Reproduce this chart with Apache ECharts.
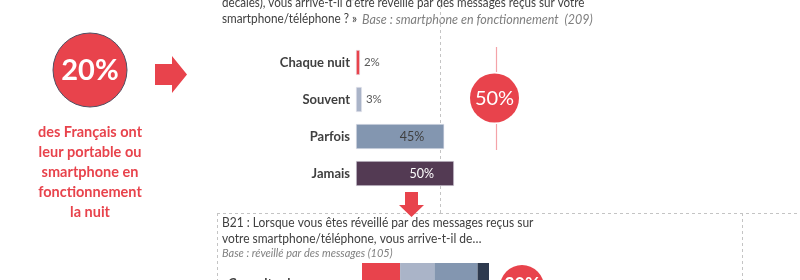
<!DOCTYPE html>
<html>
<head>
<meta charset="utf-8">
<script src="https://cdn.jsdelivr.net/npm/echarts@6/dist/echarts.min.js"></script>
<style>
  html, body { margin: 0; padding: 0; background: #fff; }
  #chart { width: 800px; height: 280px; }
</style>
</head>
<body>
<div id="chart"></div>
<script>
// réveil par des messages
const categories = ['Chaque nuit', 'Souvent', 'Parfois', 'Jamais'];
const values = [2, 3, 45, 50];
const barColors = ['#e8434c', '#aab4c8', '#8396b0', '#533a53'];
const headline = ['20%', '50%'];

// B21 (barre empilée, en partie coupée)
const b21Category = ['Consulter les messages'];
const b21Values = [30, 27, 34, 9];
const b21Colors = ['#e8434c', '#aab4c8', '#8396b0', '#2e3a4e'];
const b21Headline = '30%';

const RED = '#e8434c';
const TXT = '#404040';
const FONT = 'Lato';
const DASH = { stroke: '#c4c4c4', lineWidth: 1, lineDash: [3, 3] };

const chart = echarts.init(document.getElementById('chart'));

function label(i) {
  if (values[i] < 10) {
    return { show: true, position: 'right', distance: 4, color: '#595959', fontSize: 11.5, fontFamily: FONT };
  }
  return {
    show: true, position: 'insideRight', distance: 20, fontSize: 12.5, fontFamily: FONT,
    color: i === values.length - 1 ? '#ffffff' : '#3f3f3f'
  };
}

// texte de la question, un peu resserré comme du Calibri
function line(x, y, text, font, fill, sx) {
  return {
    type: 'text', x: x, y: y, scaleX: sx || 1,
    style: { text: text, fill: fill || TXT, font: font, textVerticalAlign: 'middle' }
  };
}

const option = {
  animation: false,
  textStyle: { fontFamily: FONT },
  grid: [
    { left: 356, top: 44, height: 148, width: 196, outerBoundsMode: 'none' },
    { left: 362, top: 263, height: 42, width: 127, outerBoundsMode: 'none' }
  ],
  xAxis: [
    { gridIndex: 0, type: 'value', min: 0, max: 100, show: false },
    { gridIndex: 1, type: 'value', min: 0, max: 100, show: false }
  ],
  yAxis: [
    {
      gridIndex: 0, type: 'category', data: categories, inverse: true,
      axisLine: { show: false }, axisTick: { show: false }, splitLine: { show: false },
      axisLabel: { margin: 6, color: TXT, fontWeight: 'bold', fontSize: 13, fontFamily: FONT }
    },
    {
      gridIndex: 1, type: 'category', data: b21Category,
      axisLine: { show: false }, axisTick: { show: false },
      axisLabel: { margin: 134, align: 'left', color: TXT, fontWeight: 'bold', fontSize: 13, fontFamily: FONT }
    }
  ],
  series: [
    {
      type: 'bar', xAxisIndex: 0, yAxisIndex: 0, barWidth: 25,
      data: values.map((v, i) => ({
        value: v,
        itemStyle: { color: barColors[i], borderColor: '#e6e6ee', borderWidth: 0.6 },
        label: label(i)
      })),
      label: { formatter: '{c}%' }
    }
  ].concat(b21Values.map((v, i) => ({
    type: 'bar', xAxisIndex: 1, yAxisIndex: 1, stack: 'b21', barWidth: 42,
    itemStyle: { color: b21Colors[i] },
    data: [v]
  }))),
  graphic: [
    // bloc gauche
    { type: 'circle', shape: { cx: 90, cy: 70, r: 37 }, style: { fill: RED, stroke: '#4d4f62', lineWidth: 1 } },
    { type: 'text', x: 90, y: 71, style: { text: headline[0], fill: '#fff', font: 'bold 29px ' + FONT, textAlign: 'center', textVerticalAlign: 'middle' } },
    {
      type: 'text', x: 90, y: 122,
      style: {
        text: 'des Français ont\nleur portable ou\nsmartphone en\nfonctionnement\nla nuit',
        fill: RED, font: 'bold 14.5px ' + FONT, textAlign: 'center', lineHeight: 20
      }
    },
    { type: 'polygon', shape: { points: [[155, 64], [172, 64], [172, 56], [187, 74.5], [172, 93], [172, 85], [155, 85]] }, style: { fill: RED } },

    // question
    line(222, 3, 'décalés), vous arrive-t-il d\u2019être réveillé par des messages reçus sur votre', '12.5px ' + FONT, TXT, 0.93),
    line(222, 19, 'smartphone/téléphone ? »', '12.5px ' + FONT, TXT, 0.94),
    line(362, 19.5, 'Base : smartphone en fonctionnement  (209)', 'italic 12.5px ' + FONT, '#7f7f7f', 1),

    // pointillés
    { type: 'line', shape: { x1: 440.5, y1: 0, x2: 440.5, y2: 213 }, style: DASH },
    { type: 'line', shape: { x1: 440, y1: 213.5, x2: 800, y2: 213.5 }, style: DASH },
    { type: 'line', shape: { x1: 217, y1: 213.5, x2: 440, y2: 213.5 }, style: DASH },
    { type: 'line', shape: { x1: 217.5, y1: 213, x2: 217.5, y2: 280 }, style: DASH },
    { type: 'line', shape: { x1: 742.5, y1: 213, x2: 742.5, y2: 280 }, style: DASH },

    // 50%
    { type: 'line', shape: { x1: 496.5, y1: 47, x2: 496.5, y2: 72 }, style: { stroke: '#f4a3a8', lineWidth: 1.2 } },
    { type: 'line', shape: { x1: 496.5, y1: 124, x2: 496.5, y2: 150 }, style: { stroke: '#f4a3a8', lineWidth: 1.2 } },
    { type: 'circle', shape: { cx: 494.5, cy: 98, r: 24.5 }, style: { fill: RED } },
    { type: 'text', x: 494.5, y: 99, style: { text: headline[1], fill: '#fff', font: '20px ' + FONT, textAlign: 'center', textVerticalAlign: 'middle' } },

    // flèche vers le bas
    { type: 'polygon', shape: { points: [[405, 192], [418, 192], [418, 205], [424, 205], [411.5, 217], [399, 205], [405, 205]] }, style: { fill: RED } },

    // B21
    line(222, 223, 'B21 : Lorsque vous êtes réveillé par des messages reçus sur', '12.5px ' + FONT, TXT, 0.96),
    line(222, 238.5, 'votre smartphone/téléphone, vous arrive-t-il de…', '12.5px ' + FONT, TXT, 0.96),
    line(222, 253.5, 'Base : réveillé par des messages (105)', 'italic 11px ' + FONT, '#7f7f7f', 1),
    { type: 'circle', shape: { cx: 522, cy: 287, r: 22 }, style: { fill: RED } },
    { type: 'text', x: 522, y: 285, style: { text: b21Headline, fill: '#fff', font: 'bold 18px ' + FONT, textAlign: 'center', textVerticalAlign: 'middle' } }
  ]
};

chart.setOption(option);
</script>
</body>
</html>
